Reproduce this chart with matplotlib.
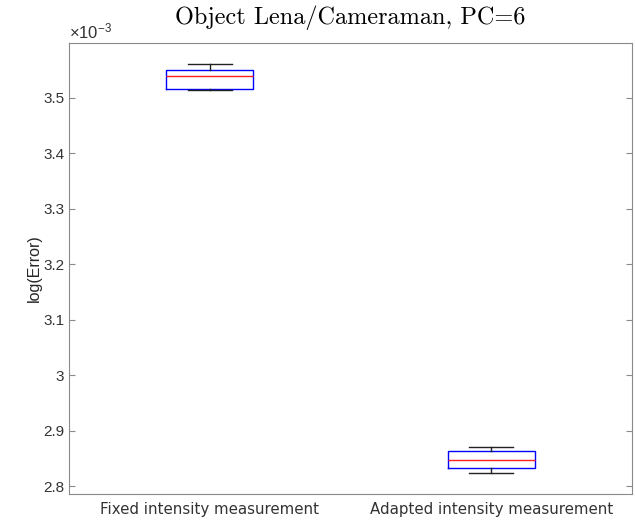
import matplotlib.pyplot as plt
from matplotlib.ticker import FuncFormatter

# values, in units of 1e-3
categories = ['Fixed intensity measurement', 'Adapted intensity measurement']
whislo = [3.515, 2.8238]
q1 = [3.5168, 2.832]
med = [3.540, 2.8466]
q3 = [3.5505, 2.864]
whishi = [3.561, 2.870]
yticks = [2.8, 2.9, 3.0, 3.1, 3.2, 3.3, 3.4, 3.5]

plt.rcParams['font.family'] = ['Liberation Sans', 'DejaVu Sans']
plt.rcParams['mathtext.fontset'] = 'custom'
plt.rcParams['mathtext.rm'] = 'Liberation Sans'
plt.rcParams['mathtext.it'] = 'Liberation Sans:italic'

fig = plt.figure(figsize=(6.35, 5.25), dpi=100)
ax = fig.add_axes([69 / 635, 31 / 525, 563 / 635, 451 / 525])

stats = []
for i, name in enumerate(categories):
    stats.append(dict(label=name, whislo=whislo[i], q1=q1[i], med=med[i],
                      q3=q3[i], whishi=whishi[i], fliers=[]))

ax.bxp(stats, positions=[1, 2], widths=0.31, showfliers=False,
       boxprops=dict(color='#0000ff', linewidth=1.0),
       medianprops=dict(color='#ff2020', linewidth=1.0),
       whiskerprops=dict(color='#222222', linewidth=1.0),
       capprops=dict(color='#222222', linewidth=1.0),
       capwidths=0.155)

ax.set_xlim(0.5, 2.5)
ax.set_ylim(2.7856, 3.599)
ax.set_yticks(yticks)
ax.yaxis.set_major_formatter(FuncFormatter(lambda v, p: ('%.1f' % v).rstrip('0').rstrip('.')))
ax.set_xticks([1, 2])
ax.set_xticklabels(categories, fontfamily='DejaVu Sans', fontsize=10.8)

for s in ax.spines.values():
    s.set_color('#8a8a8a')
ax.tick_params(axis='y', direction='in', length=4, colors='#8a8a8a',
               labelcolor='#333333', labelsize=11, right=True)
ax.tick_params(axis='x', length=0, labelcolor='#333333', pad=6)

ax.set_ylabel('log(Error)', fontsize=11.5, color='#262626', labelpad=1)
ax.text(0.0, 1.004, '\u00d710$^{-3}$', transform=ax.transAxes,
        fontsize=12, color='#333333', ha='left', va='bottom')
ax.set_title('Object Lena/Cameraman, PC=6', fontfamily='cmr10', fontsize=17.5, pad=14)

fig.savefig('out.png', dpi=100)
